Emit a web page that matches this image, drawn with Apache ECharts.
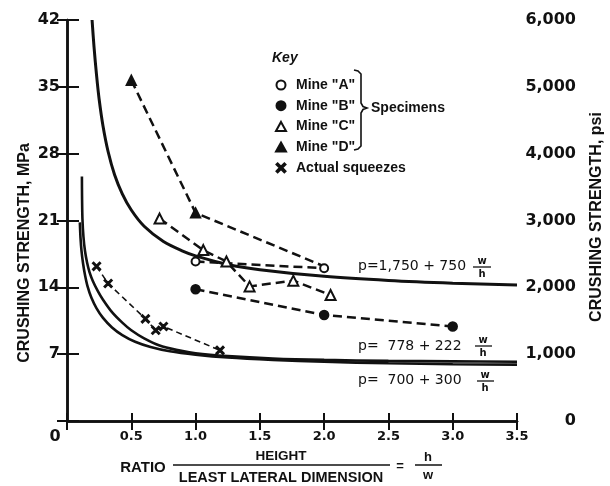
<!DOCTYPE html>
<html>
<head>
<meta charset="utf-8">
<script src="https://cdn.jsdelivr.net/npm/echarts@6/dist/echarts.min.js"></script>
<style>
  html, body { margin: 0; padding: 0; background: #fff; }
  #chart { width: 610px; height: 486px; }
</style>
</head>
<body>
<div id="chart"></div>
<script>
// x = ratio h/w, y = crushing strength in MPa
const mineA = [[1.0, 16.7], [2.0, 16.0]]
const mineB = [[1.0, 13.8], [2.0, 11.1], [3.0, 9.9]]
const mineC = [[0.72, 21.2], [1.06, 17.9], [1.24, 16.7], [1.42, 14.1], [1.76, 14.7], [2.05, 13.2]]
const mineD = [[0.5, 35.7], [1.0, 21.8], [2.0, 16.2]]
const squeezes = [[0.23, 16.2], [0.32, 14.4], [0.61, 10.7], [0.69, 9.5], [0.75, 9.9], [1.19, 7.4]]

// solid design curves
const curve1750 = [[0.195, 42], [0.21, 39.2], [0.23, 36.2], [0.25, 33.7], [0.28, 30.9], [0.32, 28.2], [0.37, 25.8], [0.43, 23.8], [0.5, 22.1], [0.6, 20.4], [0.75, 18.8], [0.9, 17.8], [1.0, 17.3], [1.25, 16.4], [1.5, 15.85], [2.0, 15.15], [2.5, 14.72], [3.0, 14.44], [3.5, 14.25]]
const curve700 = [[0.116, 25.6], [0.117, 23.5], [0.12, 21.2], [0.128, 19.3], [0.14, 17.8], [0.156, 16.6], [0.175, 15.6], [0.2, 14.7], [0.24, 13.6], [0.28, 12.7], [0.35, 11.4], [0.43, 10.3], [0.5, 9.5], [0.6, 8.65], [0.72, 7.9], [0.85, 7.45], [1.0, 7.1], [1.25, 6.8], [1.6, 6.55], [2.0, 6.4], [2.5, 6.3], [3.0, 6.25], [3.5, 6.2]]
const curve778 = [[0.1, 20.8], [0.105, 19.2], [0.113, 17.8], [0.125, 16.5], [0.14, 15.3], [0.16, 14.1], [0.19, 12.9], [0.23, 11.8], [0.28, 10.8], [0.35, 9.8], [0.43, 9.0], [0.53, 8.3], [0.65, 7.75], [0.8, 7.3], [1.0, 6.95], [1.25, 6.65], [1.6, 6.4], [2.0, 6.2], [2.5, 6.05], [3.0, 5.95], [3.5, 5.9]]

// axes
const mpaTicks = ['', '7', '14', '21', '28', '35', '42']
const psiTicks = ['0', '1,000', '2,000', '3,000', '4,000', '5,000', '6,000']
const ratioTicks = ['', '0.5', '1.0', '1.5', '2.0', '2.5', '3.0', '3.5']

const INK = '#111'
const BOLD_LBL = '"DejaVu Sans", sans-serif'
const SANS = '"Liberation Sans", Arial, sans-serif'
const xMark = 'path://M0,1.3L1.3,0L5,3.7L8.7,0L10,1.3L6.3,5L10,8.7L8.7,10L5,6.3L1.3,10L0,8.7L3.7,5Z'

const chart = echarts.init(document.getElementById('chart'))

function solid(name, data, width) {
  return {
    name, type: 'line', data, symbol: 'none', smooth: 0.3,
    lineStyle: { color: INK, width }, silent: true, z: 2,
  }
}
function dashed(name, data, symbol, size, width, dash) {
  return {
    name, type: 'line', data, symbol, symbolSize: size, showAllSymbol: true,
    lineStyle: { color: INK, width, type: dash },
    itemStyle: { color: INK, borderColor: INK, borderWidth: 1.5 },
    z: 3,
  }
}
function txt(text, x, y, font, align, extra) {
  return Object.assign({
    type: 'text', x, y,
    style: { text, font, fill: INK, textAlign: align || 'left', verticalAlign: 'middle' },
  }, extra || {})
}
function hline(x1, x2, y, w) {
  return { type: 'line', shape: { x1, y1: y, x2, y2: y }, style: { stroke: INK, lineWidth: w || 1.5 } }
}
// small w/h fraction after each equation
function wOverH(cx, yBar, x1, x2) {
  const f = 'bold 10px ' + BOLD_LBL
  return [txt('w', cx, yBar - 6, f, 'center'), hline(x1, x2, yBar, 1.3), txt('h', cx, yBar + 7, f, 'center')]
}

const graphics = [
  txt('CRUSHING STRENGTH, MPa', 25, 253, 'bold 16px ' + SANS, 'center', { rotation: Math.PI / 2 }),
  txt('CRUSHING STRENGTH, psi', 597, 217, 'bold 16px ' + SANS, 'center', { rotation: Math.PI / 2 }),
  txt('0', 55, 437, 'bold 16px ' + BOLD_LBL, 'center'),
  txt('Key', 272, 58, 'italic bold 14px ' + SANS),
  txt('Specimens', 371, 108, 'bold 14px ' + SANS),
  {
    type: 'polyline',
    shape: { points: [[354, 70], [358, 71], [361, 74], [361, 103], [363, 106.5], [367, 108], [363, 109.5], [361, 113], [361, 146], [358, 149], [354, 150]] },
    style: { stroke: INK, lineWidth: 1.6, fill: null },
  },
  txt('p=1,750 + 750', 358, 266, '14px ' + BOLD_LBL),
  ...wOverH(482, 267, 473, 491),
  txt('p=  778 + 222', 358, 346, '14px ' + BOLD_LBL),
  ...wOverH(483, 346, 475, 492),
  txt('p=  700 + 300', 358, 380, '14px ' + BOLD_LBL),
  ...wOverH(485, 381, 477, 494),
  // x axis title
  txt('RATIO', 143, 468, 'bold 15px ' + SANS, 'center'),
  txt('HEIGHT', 281, 456, 'bold 13.5px ' + SANS, 'center'),
  hline(173, 390, 465, 1.5),
  txt('LEAST LATERAL DIMENSION', 281, 478, 'bold 14.5px ' + SANS, 'center'),
  txt('=', 400, 466, 'bold 13px ' + SANS, 'center'),
  txt('h', 428, 457, 'bold 13px ' + SANS, 'center'),
  hline(415, 442, 465, 1.5),
  txt('w', 428, 475, 'bold 13px ' + SANS, 'center'),
]

const option = {
  backgroundColor: '#fff',
  animation: false,
  grid: { left: 67, right: 93, top: 20, bottom: 65, outerBoundsMode: 'none' },
  legend: {
    orient: 'vertical', left: 270, top: 73,
    itemWidth: 10, itemHeight: 9, itemGap: 6.7, selectedMode: false, symbolKeepAspect: true,
    textStyle: { color: INK, fontFamily: SANS, fontWeight: 'bold', fontSize: 14, lineHeight: 14, padding: [0, 0, 0, 5] },
    data: [
      { name: 'Mine "A"', icon: 'emptyCircle' },
      { name: 'Mine "B"', icon: 'circle' },
      { name: 'Mine "C"', icon: 'emptyTriangle' },
      { name: 'Mine "D"', icon: 'triangle' },
      { name: 'Actual squeezes', icon: xMark },
    ],
  },
  xAxis: [
    {
      type: 'value', position: 'bottom', min: 0, max: 3.5, interval: 0.5,
      axisLine: { lineStyle: { color: INK, width: 2.5 } },
      axisTick: { inside: true, length: 8, lineStyle: { color: INK, width: 2 } },
      axisLabel: {
        margin: 9, color: INK, fontFamily: BOLD_LBL, fontWeight: 'bold', fontSize: 13,
        formatter: (v) => ratioTicks[Math.round(v / 0.5)],
      },
      splitLine: { show: false },
    },
    {
      type: 'value', position: 'top', min: 0, max: 3.5, interval: 0.5,
      axisLine: { lineStyle: { color: INK, width: 2.5 } },
      axisTick: { inside: true, length: 9, lineStyle: { color: INK, width: 2 } },
      axisLabel: { show: false },
      splitLine: { show: false },
    },
  ],
  yAxis: [
    {
      type: 'value', position: 'left', min: 0, max: 42, interval: 7,
      axisLine: { show: true, lineStyle: { color: INK, width: 2.5 } },
      axisTick: { show: true, inside: true, length: 12, lineStyle: { color: INK, width: 2 } },
      axisLabel: {
        margin: 7, color: INK, fontFamily: BOLD_LBL, fontWeight: 'bold', fontSize: 16,
        formatter: (v) => mpaTicks[Math.round(v / 7)],
      },
      splitLine: { show: false },
    },
    {
      type: 'value', position: 'right', min: 0, max: 6000, interval: 1000,
      axisLine: { show: true, lineStyle: { color: INK, width: 2.5 } },
      axisTick: { show: true, inside: true, length: 10, lineStyle: { color: INK, width: 2 } },
      axisLabel: {
        margin: 59, align: 'right', color: INK, fontFamily: BOLD_LBL, fontWeight: 'bold', fontSize: 16,
        formatter: (v) => psiTicks[Math.round(v / 1000)],
      },
      splitLine: { show: false },
    },
  ],
  series: [
    solid('p=1750', curve1750, 3),
    solid('p=700', curve700, 2.6),
    solid('p=778', curve778, 2.6),
    dashed('Mine "A"', mineA, 'emptyCircle', 8, 2.5, [9, 5]),
    dashed('Mine "B"', mineB, 'circle', 9, 2.5, [9, 5]),
    dashed('Mine "C"', mineC, 'emptyTriangle', 10, 2.5, [9, 5]),
    // last D point sits on the Mine "A" circle, no marker drawn there
    dashed('Mine "D"', mineD.map((p, i) => i === mineD.length - 1 ? { value: p, symbol: 'none' } : p), 'triangle', 10, 2.5, [9, 5]),
    dashed('Actual squeezes', squeezes, xMark, 8, 1.6, [6, 4]),
  ],
  graphic: graphics,
}

chart.setOption(option)
</script>
</body>
</html>
